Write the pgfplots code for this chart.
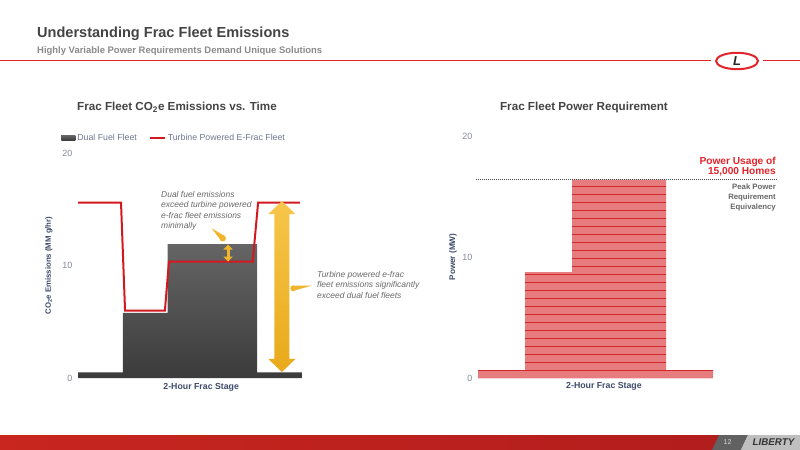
\documentclass[border=0pt]{standalone}
\usepackage{pgfplots}
\pgfplotsset{compat=1.18}
\usepackage{fontspec}
\setmainfont{Liberation Sans}
\usetikzlibrary{arrows.meta,patterns.meta}
\definecolor{cTitle}{HTML}{444444}
\definecolor{cSub}{HTML}{8A8A8A}
\definecolor{cRed}{HTML}{D3191F}
\definecolor{cDark}{HTML}{4A4A4A}
\definecolor{cLab}{HTML}{3D4B6B}
\definecolor{cTick}{HTML}{858B99}
\definecolor{cNote}{HTML}{6A6A6A}
\definecolor{cYel}{HTML}{F0B52C}
\definecolor{cYelT}{HTML}{F7C64B}
\definecolor{cYelB}{HTML}{E9A91A}
\definecolor{cPink}{HTML}{E77C7E}
\definecolor{cStripe}{HTML}{D5262C}
\definecolor{cHead}{HTML}{E2242B}
\definecolor{cFootL}{HTML}{C8261F}
\definecolor{cFootM}{HTML}{E0301F}
\definecolor{cFootR}{HTML}{B21D1D}
\begin{document}
\begin{tikzpicture}
\begin{scope}[x=1bp,y=-1bp]
\useasboundingbox (0,0) rectangle (800,450);
\fill[white] (0,0) rectangle (800,450);
% ---------- header
\node[anchor=base west, font=\fontsize{14.6}{16}\selectfont\bfseries, text=cTitle, inner sep=0] at (37,37.7) {Understanding Frac Fleet Emissions};
\node[anchor=base west, font=\fontsize{9.5}{11}\selectfont\bfseries, text=cSub, inner sep=0] at (37,53.3) {Highly Variable Power Requirements Demand Unique Solutions};
\draw[cHead, line width=1.2bp] (0,60.3) -- (711,60.3);
\draw[cHead, line width=1.2bp] (763,60.3) -- (800,60.3);
\draw[cHead, line width=2bp] (737,61) ellipse [x radius=21, y radius=8.2];
\node[font=\fontsize{13}{13}\selectfont\bfseries\itshape, text=black!85, inner sep=0] at (737,61.5) {L};
% ---------- chart titles
\node[font=\fontsize{11.7}{13}\selectfont\bfseries, text=cTitle] at (177,107) {Frac Fleet CO\textsubscript{2}e Emissions vs. Time};
\node[font=\fontsize{11.7}{13}\selectfont\bfseries, text=cTitle] at (584,107) {Frac Fleet Power Requirement};
\end{scope}
% ---------- left axis
\begin{axis}[at={(78bp,-378bp)}, anchor=south west, scale only axis, width=224bp, height=225bp,
  xmin=0, xmax=10, ymin=0, ymax=20, ytick={0,10,20}, xtick=\empty,
  axis lines=left, axis line style={draw=none}, major tick style={draw=none},
  clip=false,
  tick label style={font=\fontsize{9}{10}\selectfont, text=cTick},
  /pgf/number format/assume math mode=true,
  ylabel={CO\textsubscript{2}e Emissions (MM g/hr)},
  ylabel style={at={(axis description cs:-0.13,0.5)}, anchor=center, font=\fontsize{7.8}{9}\selectfont\bfseries, text=cLab},
  xlabel={2-Hour Frac Stage},
  xlabel style={at={(axis description cs:0.55,-0.01)}, anchor=north, font=\fontsize{8.8}{10}\selectfont\bfseries, text=cLab},
  legend style={at={(axis description cs:-0.075,1.067)}, anchor=west, draw=none, fill=none,
    font=\fontsize{8.8}{10}\selectfont, text=cLab!75, inner sep=0pt,
    /tikz/every even column/.append style={column sep=10bp}},
  legend columns=2,
]
\addplot[const plot, draw=none, top color=cDark!85!white, bottom color=cDark!80!black,
  legend image code/.code={\fill[cDark] (0bp,-2.5bp) rectangle (14bp,2.5bp);}]
  coordinates {(0,0.5)(2,5.8)(4,11.9)(8,0.5)(10,0.5)} \closedcycle;
\addlegendentry{Dual Fuel Fleet}
\addplot[cRed, line width=2bp, mark=none,
  legend image code/.code={\draw[cRed, line width=2bp] (0bp,0bp) -- (15bp,0bp);}]
  coordinates {(0,15.6)(1.92,15.6)(2.1,6.0)(3.88,6.0)(4.06,10.35)(7.8,10.35)(8.04,15.6)(9.9,15.6)};
\addlegendentry{Turbine Powered E-Frac Fleet}
\draw[cYel, line width=3bp, {Triangle[width=9bp,length=5bp]}-{Triangle[width=9bp,length=5bp]}]
  (axis cs:6.7,11.86) -- (axis cs:6.7,10.35);
\shade[top color=cYelT, bottom color=cYelB]
  (axis cs:9.1,15.73) -- (axis cs:9.703,14.57) -- (axis cs:9.435,14.57) -- (axis cs:9.435,1.69)
  -- (axis cs:9.703,1.69) -- (axis cs:9.1,0.53) -- (axis cs:8.497,1.69) -- (axis cs:8.765,1.69)
  -- (axis cs:8.765,14.57) -- (axis cs:8.497,14.57) -- cycle;
\end{axis}
% ---------- right axis
\begin{axis}[at={(478bp,-378bp)}, anchor=south west, scale only axis, width=235bp, height=242bp,
  xmin=0, xmax=10, ymin=0, ymax=20, ytick={0,10,20}, xtick=\empty,
  axis lines=left, axis line style={draw=none}, major tick style={draw=none},
  clip=false,
  tick label style={font=\fontsize{9}{10}\selectfont, text=cTick},
  /pgf/number format/assume math mode=true,
  ylabel={Power (MW)},
  ylabel style={at={(axis description cs:-0.106,0.5)}, anchor=center, font=\fontsize{8.2}{9}\selectfont\bfseries, text=cLab},
  xlabel={2-Hour Frac Stage},
  xlabel style={at={(axis description cs:0.536,-0.005)}, anchor=north, font=\fontsize{8.8}{10}\selectfont\bfseries, text=cLab},
]
\addplot[const plot, draw=none, fill=cPink,
  postaction={pattern={Lines[angle=0,distance=8bp,line width=0.8bp]}, pattern color=cStripe}]
  coordinates {(0,0.66)(2,8.76)(4,16.4)(8,0.66)(10,0.66)} \closedcycle;
\draw[black!70, line width=1.3bp, dash pattern=on 1bp off 1bp] (axis cs:-0.1,16.4) -- (axis cs:12.7,16.4);
\end{axis}
\begin{scope}[x=1bp,y=-1bp]
% ---------- annotations
\node[anchor=north west, align=left, font=\fontsize{8.5}{10.5}\selectfont\itshape, text=cNote, inner sep=0] at (161,191) {Dual fuel emissions\\exceed turbine powered\\e-frac fleet emissions\\minimally};
\node[anchor=north west, align=left, font=\fontsize{8.5}{10.5}\selectfont\itshape, text=cNote, inner sep=0] at (317,271) {Turbine powered e-frac\\fleet emissions significantly\\exceed dual fuel fleets};
\fill[cYel] (211.7,228.3) -- (224.5,236) -- (221,240.5) -- cycle;
\fill[cYel] (222.7,238.3) circle (3.2);
\fill[cYel] (312,285.5) -- (293.5,285.8) -- (293.5,290.8) -- cycle;
\fill[cYel] (293.3,288.3) circle (3);
\node[anchor=base east, font=\fontsize{10.2}{11}\selectfont\bfseries, text=cHead, inner sep=0] at (776,164.5) {Power Usage of};
\node[anchor=base east, font=\fontsize{10.2}{11}\selectfont\bfseries, text=cHead, inner sep=0] at (776,175) {15,000 Homes};
\node[anchor=base east, font=\fontsize{7.8}{10}\selectfont\bfseries, text=black!60, inner sep=0] at (776,189.5) {Peak Power};
\node[anchor=base east, font=\fontsize{7.8}{10}\selectfont\bfseries, text=black!60, inner sep=0] at (776,199.5) {Requirement};
\node[anchor=base east, font=\fontsize{7.8}{10}\selectfont\bfseries, text=black!60, inner sep=0] at (776,209.5) {Equivalency};
% ---------- footer
\shade[left color=cFootL, middle color=cFootM, right color=cFootR] (0,435) rectangle (720,450);
\fill[black!62] (712,450) -- (719,435) -- (748,435) -- (741,450) -- cycle;
\fill[black!25] (741,450) -- (748,435) -- (800,435) -- (800,450) -- cycle;
\node[font=\fontsize{7}{8}\selectfont, text=white!85!black] at (727.5,442.5) {12};
\node[font=\fontsize{9.8}{10}\selectfont\bfseries\itshape, text=black!80] at (773.5,442.5) {LIBERTY};
\end{scope}
\end{tikzpicture}
\end{document}
